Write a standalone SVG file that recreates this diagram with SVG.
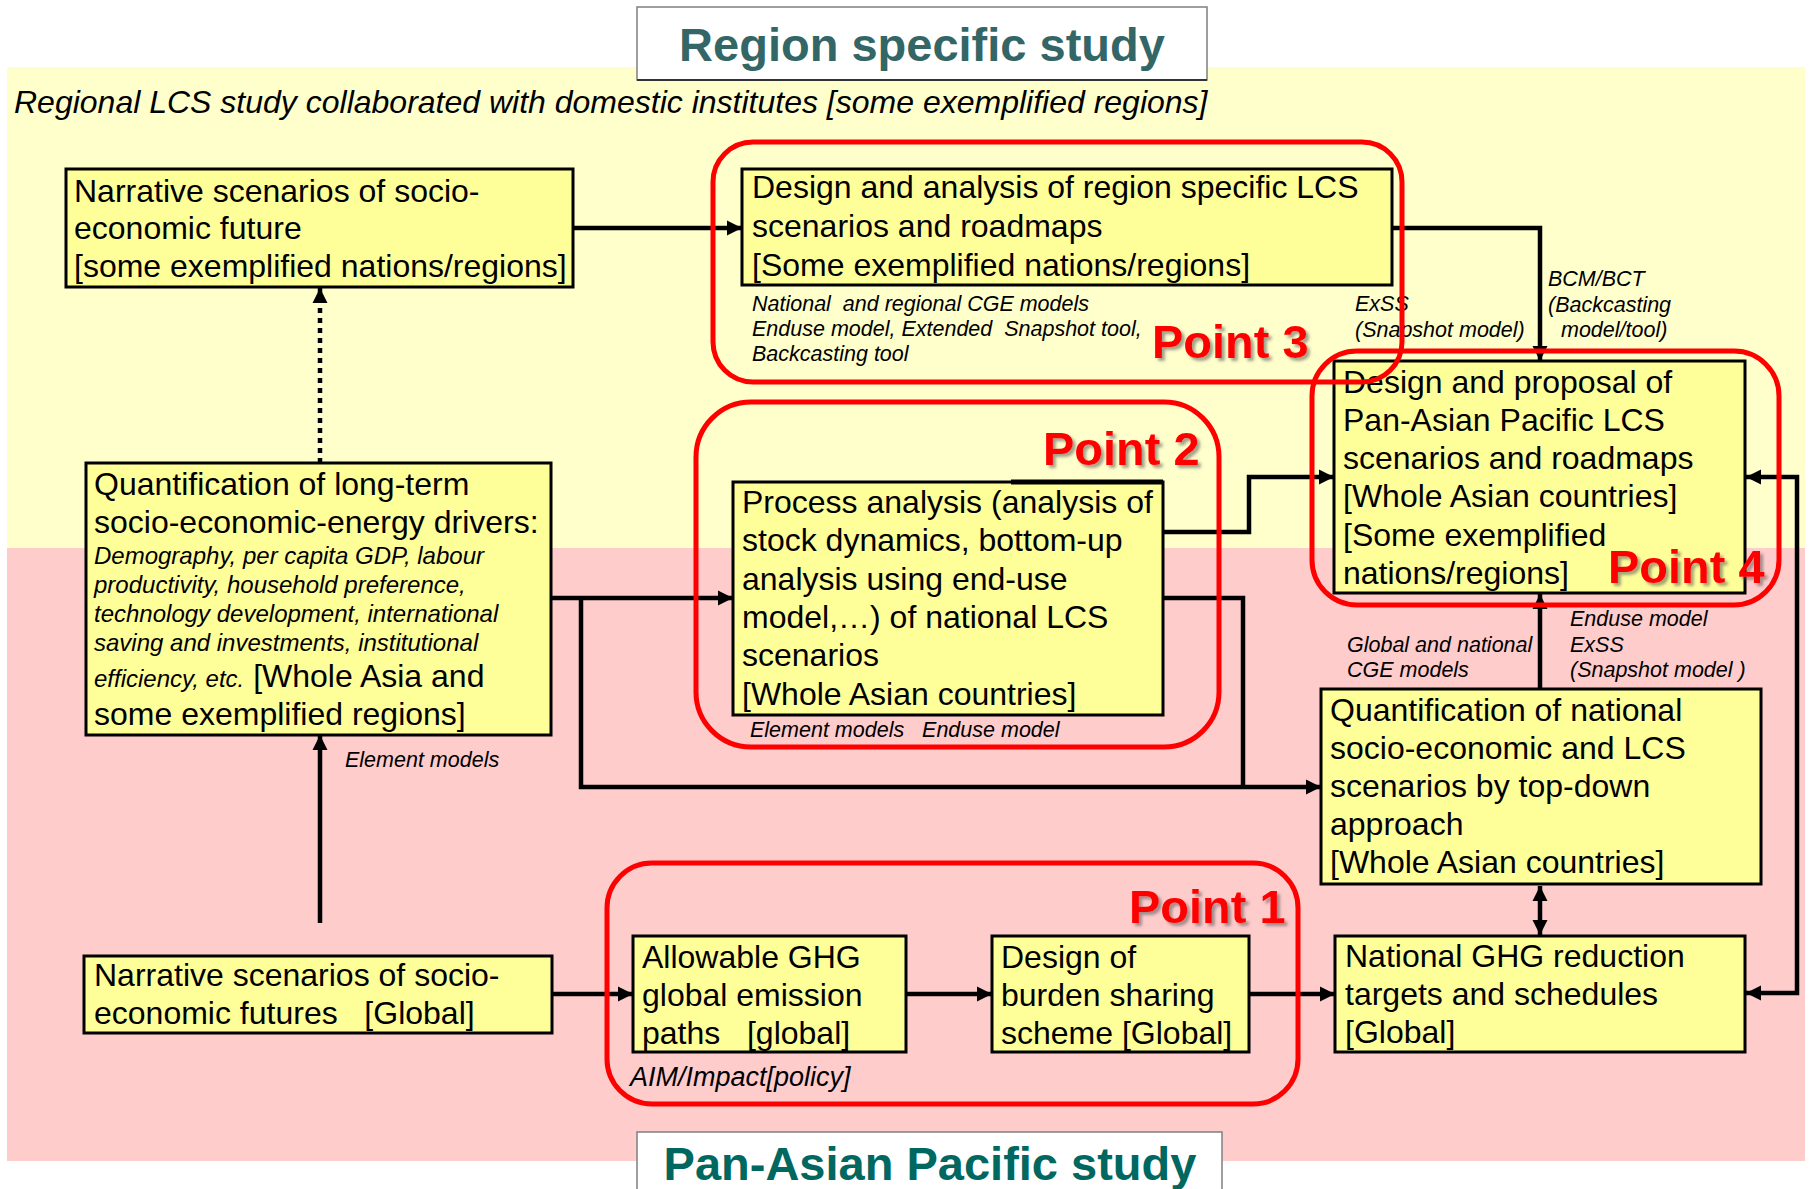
<svg xmlns="http://www.w3.org/2000/svg" width="1810" height="1189" viewBox="0 0 1810 1189">
<defs>
<style>
text{font-family:"Liberation Sans",Arial,sans-serif;fill:#000;white-space:pre}
.t{font-size:32px}
.s{font-size:24px;font-style:italic}
.l{font-size:21.5px;font-style:italic}
.box{fill:#FFFF99;stroke:#000;stroke-width:3}
.pt{fill:none;stroke:#FF0000;stroke-width:5}
.pl{font-size:47px;font-weight:bold;fill:#FF0000;filter:url(#sh)}
.c{fill:none;stroke:#000;stroke-width:4.5}
.title{font-size:47px;font-weight:bold}
</style>
<marker id="ah" viewBox="0 0 16 16" markerWidth="16" markerHeight="16" refX="15" refY="8" orient="auto-start-reverse" markerUnits="userSpaceOnUse">
<path d="M0,0.5 L15,8 L0,15.5 z" fill="#000"/>
</marker>
<filter id="sh" x="-10%" y="-20%" width="130%" height="150%">
<feDropShadow dx="3" dy="3" stdDeviation="1.5" flood-color="#555" flood-opacity="0.55"/>
</filter>
</defs>

<rect x="0" y="0" width="1810" height="1189" fill="#fff"/>
<rect x="7" y="67" width="1798" height="481" fill="#FFFFCC"/>
<rect x="7" y="548" width="1798" height="613" fill="#FFCCCC"/>

<g id="title-top">
<rect x="637" y="7" width="570" height="73" fill="#fff" stroke="#7f7f7f" stroke-width="1.5"/>
<line x1="637" y1="80" x2="1207" y2="80" stroke="#333" stroke-width="2"/>
<text class="title" x="922" y="61" text-anchor="middle" style="fill:#336666">Region specific study</text>
</g>
<text x="14" y="113" style="font-size:32px;font-style:italic">Regional LCS study collaborated with domestic institutes [some exemplified regions]</text>

<g id="title-bottom">
<rect x="637" y="1132" width="585" height="70" fill="#fff" stroke="#7f7f7f" stroke-width="1.5"/>
<text class="title" x="930" y="1180" text-anchor="middle" style="fill:#006860">Pan-Asian Pacific study</text>
</g>

<g id="connectors">
<path class="c" d="M573,228 H742" marker-end="url(#ah)"/>
<path class="c" d="M1392,228 H1540 V361" marker-end="url(#ah)"/>
<path class="c" d="M320,463 V288" stroke-width="5" stroke-dasharray="5 5" marker-end="url(#ah)"/>
<path class="c" d="M320,923 V735" marker-end="url(#ah)"/>
<path class="c" d="M551,598 H733" marker-end="url(#ah)"/>
<path class="c" d="M581,598 V787 H1321" marker-end="url(#ah)"/>
<path class="c" d="M1163,598 H1243 V787"/>
<path class="c" d="M1163,532 H1249 V477 H1334" marker-end="url(#ah)"/>
<path class="c" d="M1540,689 V594" marker-end="url(#ah)"/>
<path class="c" d="M1540,886 V935" marker-start="url(#ah)" marker-end="url(#ah)"/>
<path class="c" d="M1746,993 H1797 V477 H1746" marker-start="url(#ah)" marker-end="url(#ah)"/>
<path class="c" d="M552,994 H633" marker-end="url(#ah)"/>
<path class="c" d="M906,994 H992" marker-end="url(#ah)"/>
<path class="c" d="M1249,994 H1335" marker-end="url(#ah)"/>
</g>

<g id="node-narrative-regional">
<rect class="box" x="66" y="169" width="507" height="118"/>
<text class="t" x="74" y="202">Narrative scenarios of socio-</text>
<text class="t" x="74" y="239">economic future</text>
<text class="t" x="74" y="277">[some exemplified nations/regions]</text>
</g>

<g id="node-design-region">
<rect class="box" x="742" y="169" width="650" height="116"/>
<text class="t" x="752" y="198">Design and analysis of region specific LCS</text>
<text class="t" x="752" y="237">scenarios and roadmaps</text>
<text class="t" x="752" y="276">[Some exemplified nations/regions]</text>
<text class="l" x="752" y="311">National  and regional CGE models</text>
<text class="l" x="752" y="336">Enduse model, Extended  Snapshot tool,</text>
<text class="l" x="752" y="361">Backcasting tool</text>
<text class="l" x="1355" y="311">ExSS</text>
<text class="l" x="1355" y="337">(Snapshot model)</text>
</g>

<g id="label-bcm">
<text class="l" x="1548" y="286">BCM/BCT</text>
<text class="l" x="1548" y="312">(Backcasting</text>
<text class="l" x="1561" y="337">model/tool)</text>
</g>

<g id="node-quantification-longterm">
<rect class="box" x="86" y="463" width="465" height="272"/>
<text class="t" x="94" y="495">Quantification of long-term</text>
<text class="t" x="94" y="533">socio-economic-energy drivers:</text>
<text class="s" x="94" y="564">Demography, per capita GDP, labour</text>
<text class="s" x="94" y="593">productivity, household preference,</text>
<text class="s" x="94" y="622">technology development, international</text>
<text class="s" x="94" y="651">saving and investments, institutional</text>
<text x="94" y="687"><tspan class="s">efficiency, etc.</tspan><tspan class="t"> [Whole Asia and</tspan></text>
<text class="t" x="94" y="725">some exemplified regions]</text>
<text class="l" x="345" y="767">Element models</text>
</g>

<g id="node-process-analysis">
<rect class="box" x="733" y="482" width="430" height="233"/>
<line x1="1011" y1="482" x2="1163" y2="482" stroke="#000" stroke-width="5"/>
<text class="t" x="742" y="513">Process analysis (analysis of</text>
<text class="t" x="742" y="551">stock dynamics, bottom-up</text>
<text class="t" x="742" y="590">analysis using end-use</text>
<text class="t" x="742" y="628">model,…) of national LCS</text>
<text class="t" x="742" y="666">scenarios</text>
<text class="t" x="742" y="705">[Whole Asian countries]</text>
<text class="l" x="750" y="737">Element models   Enduse model</text>
</g>

<g id="node-design-panasian">
<rect class="box" x="1334" y="361" width="411" height="232"/>
<text class="t" x="1343" y="393">Design and proposal of</text>
<text class="t" x="1343" y="431">Pan-Asian Pacific LCS</text>
<text class="t" x="1343" y="469">scenarios and roadmaps</text>
<text class="t" x="1343" y="507">[Whole Asian countries]</text>
<text class="t" x="1343" y="546">[Some exemplified</text>
<text class="t" x="1343" y="584">nations/regions]</text>
</g>

<g id="node-quantification-national">
<text class="l" x="1347" y="652">Global and national</text>
<text class="l" x="1347" y="677">CGE models</text>
<text class="l" x="1570" y="626">Enduse model</text>
<text class="l" x="1570" y="652">ExSS</text>
<text class="l" x="1570" y="677">(Snapshot model )</text>
<rect class="box" x="1321" y="689" width="440" height="195"/>
<text class="t" x="1330" y="721">Quantification of national</text>
<text class="t" x="1330" y="759">socio-economic and LCS</text>
<text class="t" x="1330" y="797">scenarios by top-down</text>
<text class="t" x="1330" y="835">approach</text>
<text class="t" x="1330" y="873">[Whole Asian countries]</text>
</g>

<g id="node-narrative-global">
<rect class="box" x="84" y="956" width="468" height="77"/>
<text class="t" x="94" y="986">Narrative scenarios of socio-</text>
<text class="t" x="94" y="1024">economic futures   [Global]</text>
</g>

<g id="node-allowable">
<rect class="box" x="633" y="936" width="273" height="116"/>
<text class="t" x="642" y="968">Allowable GHG</text>
<text class="t" x="642" y="1006">global emission</text>
<text class="t" x="642" y="1044">paths   [global]</text>
<text x="630" y="1086" style="font-size:27px;font-style:italic">AIM/Impact[policy]</text>
</g>

<g id="node-burden">
<rect class="box" x="992" y="936" width="257" height="116"/>
<text class="t" x="1001" y="968">Design of</text>
<text class="t" x="1001" y="1006">burden sharing</text>
<text class="t" x="1001" y="1044">scheme [Global]</text>
</g>

<g id="node-national-ghg">
<rect class="box" x="1335" y="936" width="410" height="116"/>
<text class="t" x="1345" y="967">National GHG reduction</text>
<text class="t" x="1345" y="1005">targets and schedules</text>
<text class="t" x="1345" y="1043">[Global]</text>
</g>

<g id="point3">
<rect class="pt" x="713" y="142" width="689" height="240" rx="40"/>
<text class="pl" x="1152" y="358">Point 3</text>
</g>
<g id="point2">
<rect class="pt" x="696" y="402" width="523" height="345" rx="55"/>
<text class="pl" x="1043" y="465">Point 2</text>
</g>
<g id="point4">
<rect class="pt" x="1312" y="351" width="467" height="254" rx="45"/>
<text class="pl" x="1608" y="583">Point 4</text>
</g>
<g id="point1">
<rect class="pt" x="607" y="863" width="691" height="241" rx="45"/>
<text class="pl" x="1129" y="923">Point 1</text>
</g>
</svg>
